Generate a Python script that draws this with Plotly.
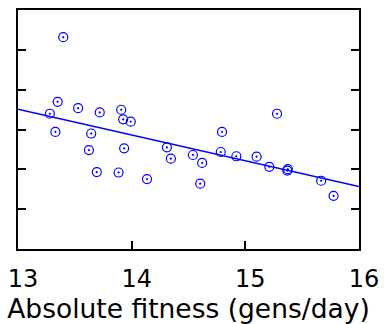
import numpy as np
import plotly.graph_objects as go

# Absolute fitness (gens/day) vs. response for each strain
fitness = [13.349, 13.280, 13.529, 13.719, 13.908, 13.925, 13.992, 13.329,
           13.644, 13.624, 13.934, 13.693, 13.885, 14.135, 13.398, 14.310,
           14.345, 14.539, 14.620, 14.603, 14.795, 14.784, 14.921, 15.099,
           15.279, 15.211, 15.374, 15.369, 15.667, 15.776]
response = [3.694, 3.396, 3.535, 3.429, 3.496, 3.255, 3.197, 2.939,
            2.899, 2.484, 2.527, 1.930, 1.920, 1.756, 5.317, 2.552,
            2.268, 2.360, 2.161, 1.640, 2.939, 2.435, 2.328, 2.318,
            3.396, 2.062, 2.005, 1.970, 1.714, 1.334]

# Linear trend line (slope, intercept)
fit_slope = -0.648
fit_intercept = 11.934
fit_x = [13, 16]

x_ticks = [13, 14, 15, 16]
y_ticks = [0, 1, 2, 3, 4, 5, 6]

blue = "#0000ff"
fit_y = [fit_intercept + fit_slope * v for v in fit_x]

fig = go.Figure()
fig.add_trace(go.Scatter(
    x=fit_x, y=fit_y, mode="lines",
    line=dict(color=blue, width=1.5), hoverinfo="skip"))
fig.add_trace(go.Scatter(
    x=fitness, y=response, mode="markers",
    marker=dict(symbol="circle-open-dot", size=9, color=blue,
                line=dict(color=blue, width=1.2))))

font = "DejaVu Sans, sans-serif"
fig.update_layout(
    width=387, height=324,
    margin=dict(l=17.5, r=21, t=7.5, b=75),
    paper_bgcolor="white", plot_bgcolor="white",
    showlegend=False,
    font=dict(family=font, size=24, color="black"),
    xaxis=dict(
        range=[13, 16], tickvals=x_ticks, ticktext=[str(t) for t in x_ticks],
        ticks="inside", ticklen=8, tickwidth=2, tickcolor="black",
        showline=True, linewidth=2, linecolor="black", mirror=True,
        showgrid=False, zeroline=False,
        tickfont=dict(size=24), ticklabelstandoff=7, ticklabelshift=5,
        title=dict(text="Absolute fitness (gens/day)", font=dict(size=26.5), standoff=1)),
    yaxis=dict(
        range=[0, 6], tickvals=y_ticks, showticklabels=False,
        ticks="inside", ticklen=8, tickwidth=2, tickcolor="black",
        showline=True, linewidth=2, linecolor="black", mirror="ticks",
        showgrid=False, zeroline=False),
)

fig.write_html("out.html")
